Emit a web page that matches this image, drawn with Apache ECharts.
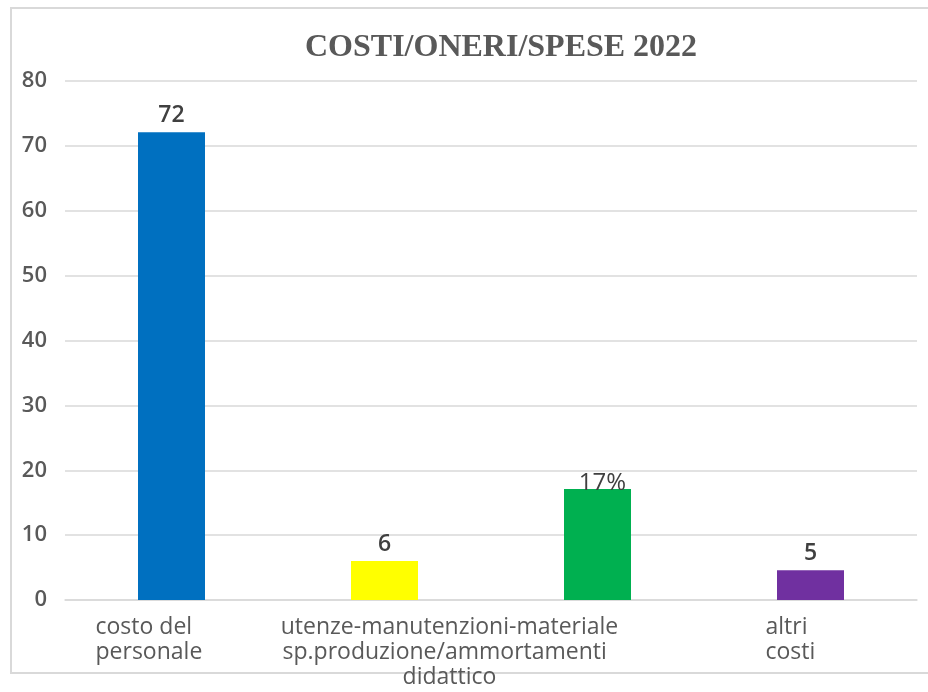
<!DOCTYPE html>
<html>
<head>
<meta charset="utf-8">
<script src="https://cdn.jsdelivr.net/npm/echarts@6/dist/echarts.min.js"></script>
<style>
html,body{margin:0;padding:0;background:#fff;}
#chart{width:928px;height:692px;}
</style>
</head>
<body>
<div id="chart"></div>
<script>
// ---- data ----
const titleText = "COSTI/ONERI/SPESE 2022";
const categories = ["costo del personale", "utenze-manutenzioni-materiale didattico", "sp.produzione/ammortamenti", "altri costi"];
const tickLabels = ["costo del\npersonale", "utenze-manutenzioni-materiale\n\ndidattico", "\nsp.produzione/ammortamenti", "altri\ncosti"];
const values = [72.1, 6.0, 17.1, 4.6];
const dataLabels = ["72", "6", "17%", "5"];
const barColors = ["#0070C0", "#FFFF00", "#00B050", "#7030A0"];
const yTicks = [0, 10, 20, 30, 40, 50, 60, 70, 80];

// ---- layout / styling (not data) ----
const labelAligns = ['left', 'center', 'left', 'left'];
const labelPads = [[0, 0, 0, -76], [0, 0, 0, 130], [0, 0, 0, -315], [0, 0, 0, -45]];
const labelStyleOverrides = [
  { fontWeight: 600, fontSize: 23, offset: [0, 0] },
  { fontWeight: 600, fontSize: 23, offset: [0, 0] },
  { fontWeight: 'normal', fontSize: 24, offset: [5, 11] },
  { fontWeight: 600, fontSize: 23, offset: [0, 0] }
];

const chart = echarts.init(document.getElementById('chart'), null, { renderer: 'canvas' });

const xData = categories.map((c, i) => ({
  value: c,
  textStyle: { align: labelAligns[i], padding: labelPads[i] }
}));

const seriesData = values.map((v, i) => ({
  value: v,
  itemStyle: { color: barColors[i] },
  label: Object.assign({ formatter: dataLabels[i] }, labelStyleOverrides[i])
}));

chart.setOption({
  animation: false,
  backgroundColor: '#ffffff',
  title: {
    text: titleText,
    left: 300,
    top: 27,
    textStyle: {
      fontFamily: '"Liberation Serif", "Times New Roman", serif',
      fontWeight: 'bold',
      fontSize: 32,
      color: '#595959'
    }
  },
  graphic: [{
    type: 'rect',
    shape: { x: 11, y: 8, width: 940, height: 665 },
    style: { fill: 'none', stroke: '#d9d9d9', lineWidth: 2 },
    silent: true,
    z: -1
  }],
  grid: { left: 65, right: 11, top: 81, bottom: 92, containLabel: false },
  xAxis: {
    type: 'category',
    data: xData,
    axisTick: { show: false },
    axisLine: { show: true, lineStyle: { color: '#d9d9d9', width: 1.5 } },
    axisLabel: {
      interval: 0,
      margin: 15,
      color: '#595959',
      fontFamily: '"Open Sans", "Noto Sans", sans-serif',
      fontSize: 23,
      lineHeight: 25,
      formatter: (val, idx) => tickLabels[idx]
    }
  },
  yAxis: {
    type: 'value',
    min: yTicks[0],
    max: yTicks[yTicks.length - 1],
    interval: 10,
    axisLine: { show: false },
    axisTick: { show: false },
    splitLine: { lineStyle: { color: '#d9d9d9', width: 1.5 } },
    axisLabel: {
      margin: 18,
      color: '#595959',
      fontFamily: '"Open Sans", "Noto Sans", sans-serif',
      fontWeight: 600,
      fontSize: 22
    }
  },
  series: [{
    type: 'bar',
    data: seriesData,
    barWidth: 67,
    label: {
      show: true,
      position: 'top',
      color: '#404040',
      fontFamily: '"Open Sans", "Noto Sans", sans-serif'
    }
  }]
});
</script>
</body>
</html>
